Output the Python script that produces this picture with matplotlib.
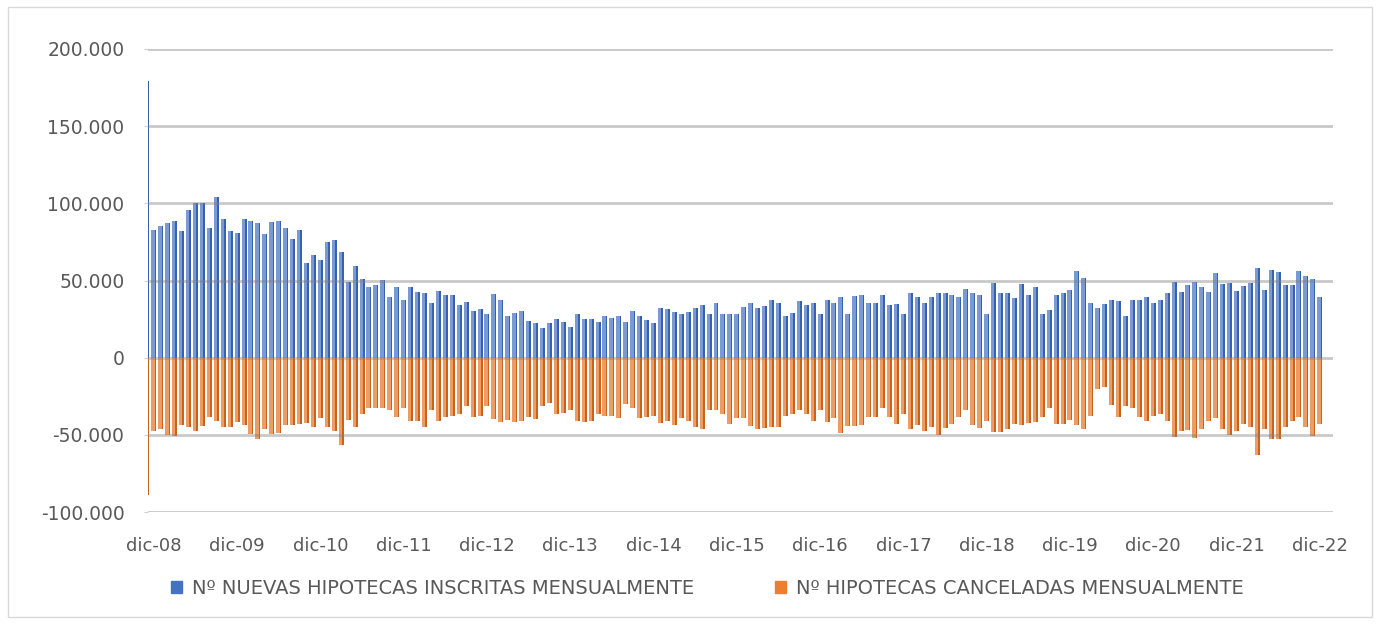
import numpy as np
import matplotlib
matplotlib.use("Agg")
import matplotlib.pyplot as plt
from matplotlib.patches import Rectangle, Patch
from matplotlib.ticker import FuncFormatter

# first value is the odd leading point drawn at the axis edge, then dic-08 .. dic-22
inscritas = [179000,
    82700, 85500, 87000, 88800, 82300, 95700, 100000, 100000, 84000, 104400, 89800, 82300,
    80500, 89800, 88800, 87000, 80100, 87700, 88800, 84000, 76900, 82700, 61100, 66500,
    63200, 75100, 76200, 68200, 49100, 59500, 50900, 45900, 47200, 50400, 39000, 45500,
    37500, 46100, 42600, 42200, 35300, 42900, 40700, 40700, 34200, 36200, 30300, 31800,
    28100, 41100, 37500, 27100, 29200, 30300, 23800, 22700, 19500, 22700, 24900, 23200,
    20100, 28600, 25300, 25300, 23400, 27100, 25500, 27100, 23400, 30300, 27100, 24500,
    22700, 32500, 31400, 29900, 28600, 29900, 32000, 34000, 28600, 35700, 28600, 28100,
    28100, 33000, 35700, 32500, 33600, 37200, 35700, 27100, 29200, 36800, 34200, 35700,
    28600, 37500, 35700, 39000, 28600, 40100, 40700, 35700, 35700, 40700, 34200, 34600,
    28100, 41600, 39000, 35700, 39400, 42200, 41600, 40700, 39000, 44400, 41600, 40700,
    28600, 48700, 42200, 41600, 38500, 47600, 40700, 45900, 28600, 30700, 40700, 41600,
    43700, 56300, 51500, 35700, 32000, 34600, 37200, 36800, 27100, 37200, 37200, 39400,
    35700, 37200, 42200, 49100, 42600, 47200, 49100, 45900, 42600, 54600, 47600, 48700,
    42900, 46500, 48100, 57800, 43700, 56700, 55200, 47200, 47200, 55900, 53000, 50900,
    39000]

canceladas = [-89000,
    -47200, -46500, -49800, -50900, -43700, -45000, -47600, -44400, -38500, -41100, -45000, -45000,
    -41600, -43700, -49400, -53000, -46500, -49400, -48700, -43700, -43700, -43300, -42200, -45000,
    -39400, -45000, -47600, -56700, -40700, -45000, -36400, -32900, -32500, -32900, -34200, -38300,
    -32500, -41100, -41100, -45000, -34200, -41100, -38500, -37900, -36500, -31200, -38200, -38000,
    -31200, -39600, -41500, -40200, -41500, -40800, -38500, -40000, -31200, -29200, -36500, -36000,
    -34100, -41100, -41500, -41000, -36400, -37900, -37900, -39400, -30300, -32500, -39400, -38500,
    -37900, -42200, -41100, -43700, -39000, -41100, -44800, -45900, -34200, -34200, -36800, -42900,
    -39000, -39000, -44400, -45900, -45500, -45000, -45000, -37900, -36800, -34200, -36800, -41100,
    -33600, -41600, -39400, -48700, -44400, -44400, -43700, -38500, -38500, -32500, -38500, -42900,
    -36800, -46500, -43700, -47200, -45000, -50200, -45500, -43300, -38500, -34200, -43700, -45500,
    -41100, -48100, -48100, -46500, -43300, -43700, -42200, -41500, -38500, -32900, -43300, -42900,
    -40700, -43700, -45900, -37900, -20600, -19100, -30900, -38500, -31400, -32500, -38500, -41100,
    -37900, -36800, -41100, -51500, -47600, -47000, -52200, -45900, -41100, -39000, -46500, -50200,
    -47600, -42900, -45000, -62800, -45900, -53000, -52400, -45000, -41100, -38500, -45000, -50900,
    -42900]

year_labels = ['dic-08', 'dic-09', 'dic-10', 'dic-11', 'dic-12', 'dic-13', 'dic-14', 'dic-15',
               'dic-16', 'dic-17', 'dic-18', 'dic-19', 'dic-20', 'dic-21', 'dic-22']

serie_labels = ['Nº NUEVAS HIPOTECAS INSCRITAS MENSUALMENTE',
                'Nº HIPOTECAS CANCELADAS MENSUALMENTE']

plt.rcParams['font.family'] = ['DejaVu Sans']
txt = '#595959'

fig = plt.figure(figsize=(13.79, 6.24), dpi=100)
ax = fig.add_axes([148/1379, 1 - 512/624, (1333 - 148)/1379, (512 - 49)/624])

x = np.arange(len(inscritas))
w = 0.72
# light body + darker right edge, like the excel gradient bars
ax.bar(x, inscritas, width=w, color='#7a9ad6', zorder=2)
ax.bar(x + w/2 - 0.12, inscritas, width=0.24, color='#3760ae', zorder=2)
ax.bar(x, canceladas, width=w, color='#ee9c64', zorder=2)
ax.bar(x + w/2 - 0.12, canceladas, width=0.24, color='#c9621b', zorder=2)

yt = np.arange(-100000, 200001, 50000)
for v in yt:
    ax.axhline(v, color='#7f7f7f', lw=2.0, alpha=0.42, zorder=3)

ax.set_ylim(-100000, 200000)
ax.set_xlim(0.16, len(inscritas) + 0.9)
ax.set_yticks(yt)
ax.yaxis.set_major_formatter(FuncFormatter(lambda v, p: f"{v:,.0f}".replace(',', '.')))
ax.set_xticks(np.arange(1, len(inscritas), 12))
ax.set_xticklabels(year_labels)

for s in ax.spines.values():
    s.set_visible(False)
ax.tick_params(axis='y', length=3, color='#d0d0d0', pad=14, labelsize=13.5, labelcolor=txt)
ax.tick_params(axis='x', length=0, pad=18, labelsize=13, labelcolor=txt)

handles = [Patch(color='#4472c4'), Patch(color='#ed7d31')]
fig.legend(handles, serie_labels, loc='center', bbox_to_anchor=(0.513, 0.057), ncol=2,
           frameon=False, fontsize=14, labelcolor=txt, handlelength=0.55, handleheight=0.55,
           handletextpad=0.5, columnspacing=4.2)

fig.patches.append(Rectangle((8/1379, 7/624), 1364/1379, 610/624, transform=fig.transFigure,
                             fill=False, edgecolor='#d9d9d9', lw=1))

fig.savefig('out.png', dpi=100)
